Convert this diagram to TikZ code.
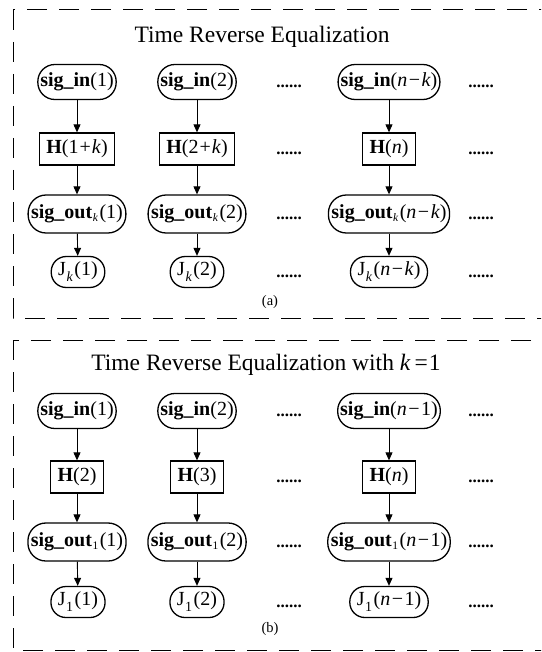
\documentclass[tikz,border=0pt]{standalone}
\usepackage{fontspec}
\setmainfont{Liberation Serif}
\usetikzlibrary{arrows.meta}
\newcommand{\lsub}[1]{\hspace{0.5pt}\raisebox{-0.65ex}{\fontsize{14}{14}\selectfont #1}\hspace{1.5pt}}
\newcommand{\osub}[1]{\hspace{0.5pt}\raisebox{-0.3ex}{\fontsize{11.5}{12}\selectfont #1}\hspace{1.5pt}}
\newcommand{\mn}{\hspace{1.5pt}−\hspace{1.5pt}}
\begin{document}
\begin{tikzpicture}[x=1pt,y=-1pt,
  font=\fontsize{20}{22}\selectfont,
  dashbox/.style={line width=1pt, dash pattern=on 20pt off 12pt},
  nodein/.style={draw, line width=1.3pt, rounded corners=17pt, minimum height=35pt, inner xsep=2.5pt, inner ysep=0pt},
  nodeout/.style={draw, line width=1.3pt, rounded corners=18pt, minimum height=38pt, inner xsep=3pt, inner ysep=0pt},
  nodej/.style={draw, line width=1.3pt, rounded corners=15pt, minimum height=31pt, inner xsep=7pt, inner ysep=0pt},
  hbox/.style={draw, line width=1.3pt, minimum height=32pt, inner xsep=7pt, inner ysep=0pt},
  dotsnode/.style={font=\fontsize{17}{17}\selectfont\bfseries, inner sep=0pt},
  subcaption/.style={font=\fontsize{14.5}{16}\selectfont, inner sep=0pt},
  titlenode/.style={font=\fontsize{23.5}{25}\selectfont, inner sep=0pt},
  arrow/.style={-{Triangle[width=7pt,length=8pt]}, line width=0.9pt}
]
\useasboundingbox (0,0) rectangle (541,652);
\clip (0,0) rectangle (541,652);
\fill[white] (0,0) rectangle (541,652);
% panel frames
\draw[dashbox] (13,10) rectangle (570,318);
\draw[dashbox] (13,340) rectangle (570,650);

% ---------------- panel (a)
\node[titlenode] (ta) at (262,37) {Time Reverse Equalization};
\node[nodein] (a1in) at (77,82) {\textbf{sig\_in}(1)};
\node[nodein] (a2in) at (197,82) {\textbf{sig\_in}(2)};
\node[nodein] (a3in) at (389,82) {\textbf{sig\_in}(\textit{n}\mn\textit{k})};
\node[hbox] (a1h) at (77,149) {\textbf{H}(1\hspace{1pt}+\hspace{1pt}\textit{k})};
\node[hbox] (a2h) at (197,149) {\textbf{H}(2\hspace{1pt}+\hspace{1pt}\textit{k})};
\node[hbox] (a3h) at (389,149) {\textbf{H}(\textit{n})};
\node[nodeout] (a1o) at (77,214) {\textbf{sig\_out}\osub{\textit{k}}(1)};
\node[nodeout] (a2o) at (197,214) {\textbf{sig\_out}\osub{\textit{k}}(2)};
\node[nodeout] (a3o) at (389,214) {\textbf{sig\_out}\osub{\textit{k}}(\textit{n}\mn\textit{k})};
\node[nodej] (a1j) at (78,272) {J\lsub{\textit{k}}(1)};
\node[nodej] (a2j) at (197,272) {J\lsub{\textit{k}}(2)};
\node[nodej] (a3j) at (389,272) {J\lsub{\textit{k}}(\textit{n}\mn\textit{k})};
\node[subcaption] (la) at (270,302) {(a)};
\foreach \r/\y in {in/86, h/153, o/218, j/276}{
  \node[dotsnode] (ad\r) at (289,\y) {......};
  \node[dotsnode] (ae\r) at (481,\y) {......};
}
\foreach \c in {1,2,3}{
  \draw[arrow] (a\c in) -- (a\c h);
  \draw[arrow] (a\c h) -- (a\c o);
  \draw[arrow] (a\c o) -- (a\c j);
}

% ---------------- panel (b)
\node[titlenode] (tb) at (266,365) {Time Reverse Equalization with \textit{k}\hspace{4pt}=\hspace{1pt}1};
\node[nodein] (b1in) at (77,411) {\textbf{sig\_in}(1)};
\node[nodein] (b2in) at (197,411) {\textbf{sig\_in}(2)};
\node[nodein] (b3in) at (389,411) {\textbf{sig\_in}(\textit{n}\mn1)};
\node[hbox] (b1h) at (77,477) {\textbf{H}(2)};
\node[hbox] (b2h) at (197,477) {\textbf{H}(3)};
\node[hbox] (b3h) at (389,477) {\textbf{H}(\textit{n})};
\node[nodeout] (b1o) at (77,542) {\textbf{sig\_out}\osub{1}(1)};
\node[nodeout] (b2o) at (197,542) {\textbf{sig\_out}\osub{1}(2)};
\node[nodeout] (b3o) at (389,542) {\textbf{sig\_out}\osub{1}(\textit{n}\mn1)};
\node[nodej] (b1j) at (78,602) {J\lsub{1}(1)};
\node[nodej] (b2j) at (197,602) {J\lsub{1}(2)};
\node[nodej] (b3j) at (389,602) {J\lsub{1}(\textit{n}\mn1)};
\node[subcaption] (lb) at (270,629) {(b)};
\foreach \r/\y in {in/415, h/481, o/546, j/606}{
  \node[dotsnode] (bd\r) at (289,\y) {......};
  \node[dotsnode] (be\r) at (481,\y) {......};
}
\foreach \c in {1,2,3}{
  \draw[arrow] (b\c in) -- (b\c h);
  \draw[arrow] (b\c h) -- (b\c o);
  \draw[arrow] (b\c o) -- (b\c j);
}
\end{tikzpicture}
\end{document}
